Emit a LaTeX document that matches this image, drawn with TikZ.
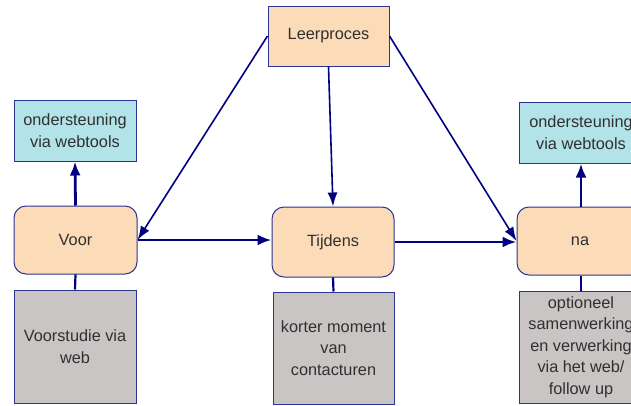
\documentclass[tikz,border=0pt]{standalone}
\usepackage{fontspec}
\setmainfont{Liberation Sans}
\usetikzlibrary{arrows.meta}
\definecolor{peach}{HTML}{FCDBB8}
\definecolor{aqua}{HTML}{B2E3E8}
\definecolor{stone}{HTML}{C9C5C5}
\definecolor{rim}{HTML}{2A3590}
\definecolor{navy}{HTML}{000080}
\definecolor{ink}{HTML}{303030}
\tikzset{
  box/.style={draw=rim, line width=1pt, text=ink, align=center,
    font=\fontsize{16.3}{21.5}\selectfont, inner sep=0pt},
  phase/.style={box, fill=peach, rounded corners=12pt},
  tool/.style={box, fill=aqua},
  detail/.style={box, fill=stone},
  flow/.style={navy, line width=1.6pt, -{Latex[length=14pt,width=10pt]}},
  bigflow/.style={navy, line width=2.8pt, -{Latex[length=14pt,width=11pt]}},
  link/.style={navy, line width=2.2pt},
}
\begin{document}
\begin{tikzpicture}[x=1pt,y=-1pt]
\useasboundingbox (0,0) rectangle (631,405);
\begin{scope}
\clip (0,0) rectangle (631,405);
% top process node
\node[phase, rounded corners=0pt, minimum width=121pt, minimum height=60pt] (leer) at (328.5,36) {Leerproces};
% the three phases
\node[phase, minimum width=123pt, minimum height=68pt] (voor) at (75.5,240) {Voor};
\node[phase, minimum width=122pt, minimum height=70pt] (tijd) at (333,242) {Tijdens};
\node[phase, minimum width=126pt, minimum height=68pt] (na) at (580,241) {na};
% web tool support
\node[tool, minimum width=122pt, minimum height=61pt] (ondL) at (75,130.5) {ondersteuning\\via webtools};
\node[tool, minimum width=124pt, minimum height=61pt] (ondR) at (581,132.5) {ondersteuning\\via webtools};
% details per phase
\node[detail, minimum width=122pt, minimum height=113pt] (vstud) at (75,346.5) {Voorstudie via\\web};
\node[detail, minimum width=121pt, minimum height=112pt] (kort) at (333.5,348) {korter moment\\van\\contacturen};
\node[detail, minimum width=124pt, minimum height=112pt] (opt) at (581,347) {optioneel\\samenwerking\\en verwerking\\via het web/\\follow up};
% connectors
\draw[flow] (leer.west) -- (voor.east);
\draw[flow] (leer.south) -- (tijd.north);
\draw[flow] (leer.east) -- (na.west);
\draw[bigflow] (voor.east) -- (voor.east -| tijd.west);
\draw[bigflow] (tijd.east) -- (tijd.east -| na.west);
\draw[bigflow] (voor.north) -- (ondL.south);
\draw[bigflow] (na.north -| ondR.south) -- (ondR.south);
\draw[link] (voor.south) -- (vstud.north);
\draw[link] (tijd.south) -- (kort.north);
\draw[link] (na.south -| opt.north) -- (opt.north);
\end{scope}
\end{tikzpicture}
\end{document}
